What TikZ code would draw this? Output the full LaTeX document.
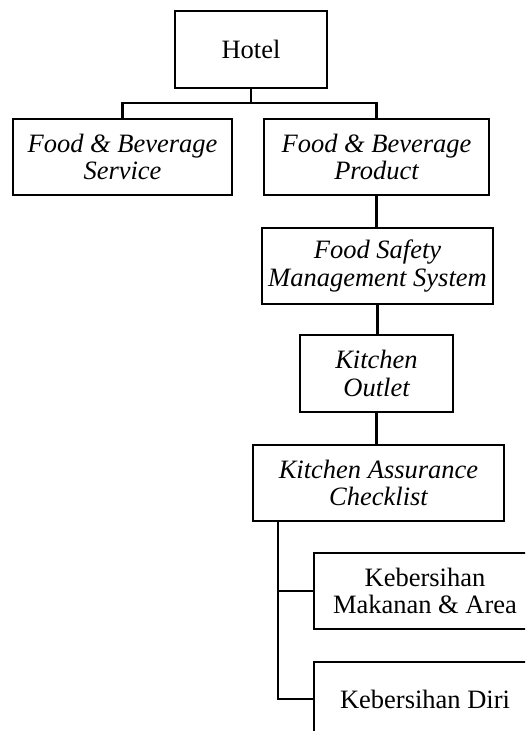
\documentclass[tikz,border=0pt]{standalone}
\usepackage{fontspec}
\setmainfont{Liberation Serif}
\begin{document}
\begin{tikzpicture}[x=1pt,y=-1pt,
  box/.style={draw,line width=2.5pt,align=center,inner sep=0pt,
    font=\fontsize{26.5}{27.5}\selectfont},
  itbox/.style={box,font=\fontsize{26.5}{27.5}\selectfont\itshape},
  conn/.style={line width=2.5pt}]
\useasboundingbox (0,0) rectangle (525,731);
\clip (0,0) rectangle (525,731);
\node[box,minimum width=152pt,minimum height=77pt] (hotel) at (251,49.5) {Hotel};
\node[itbox,minimum width=219pt,minimum height=76pt] (fbs) at (122.5,157) {Food \& Beverage\\Service};
\node[itbox,minimum width=225pt,minimum height=76pt] (fbp) at (376.5,157) {Food \& Beverage\\Product};
\node[itbox,minimum width=231pt,minimum height=76pt] (fsms) at (377.5,266) {Food Safety\\Management System};
\node[itbox,minimum width=153pt,minimum height=77pt] (ko) at (376.5,373.5) {Kitchen\\Outlet};
\node[itbox,minimum width=251pt,minimum height=76pt] (kac) at (378.5,483) {Kitchen Assurance\\Checklist};
\node[box,minimum width=222pt,minimum height=76pt] (kma) at (425,591) {Kebersihan\\Makanan \& Area};
\node[box,minimum width=222pt,minimum height=74pt] (kd) at (425,699) {Kebersihan Diri};
\coordinate (j) at (251,103);
\draw[conn] (hotel.south) -- (j);
\draw[conn] (fbs.north) |- (j) -| (fbp.north);
\draw[conn] (fbp.south) -- (fbp.south |- fsms.north);
\draw[conn] (fsms.south) -- (fsms.south |- ko.north);
\draw[conn] (ko.south) -- (ko.south |- kac.north);
\coordinate (kt) at (278,521);
\draw[conn] (kt) |- (kd.west);
\draw[conn] (kt |- kma.west) -- (kma.west);
\end{tikzpicture}
\end{document}
